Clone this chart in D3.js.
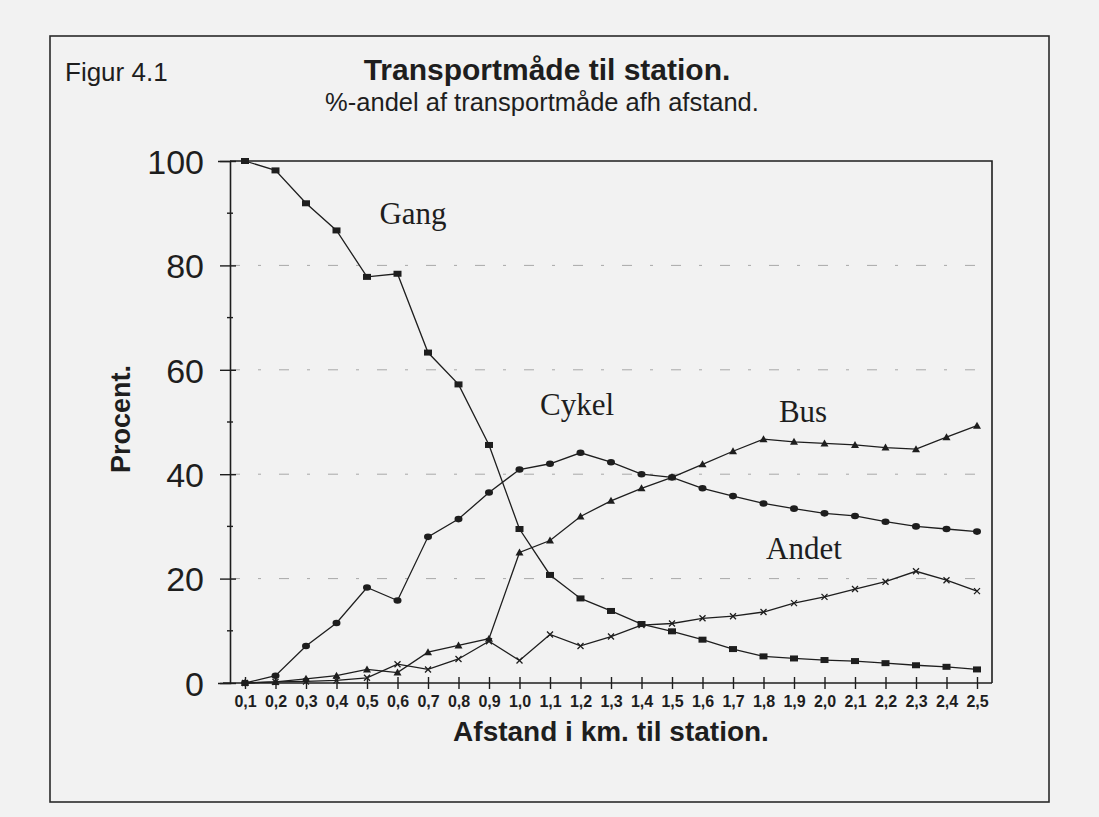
<!DOCTYPE html>
<html>
<head>
<meta charset="utf-8">
<script src="https://cdn.jsdelivr.net/npm/d3@7"></script>
<style>
  html, body { margin: 0; padding: 0; background: #f2f2f2; }
  svg { display: block; }
</style>
</head>
<body>
<svg id="chart" width="1099" height="817"></svg>
<script>
// ---- data ----
const categories = ["0,1","0,2","0,3","0,4","0,5","0,6","0,7","0,8","0,9","1,0","1,1","1,2","1,3",
                    "1,4","1,5","1,6","1,7","1,8","1,9","2,0","2,1","2,2","2,3","2,4","2,5"];
const gang  = [100, 98.2, 91.9, 86.7, 77.8, 78.4, 63.3, 57.2, 45.6, 29.5, 20.7, 16.2, 13.8,
               11.3, 9.9, 8.3, 6.5, 5.1, 4.7, 4.4, 4.2, 3.8, 3.4, 3.1, 2.6];
const cykel = [0, 1.4, 7.1, 11.5, 18.3, 15.8, 28.0, 31.4, 36.5, 40.9, 42.0, 44.1, 42.3,
               40.0, 39.4, 37.3, 35.8, 34.4, 33.4, 32.5, 32.0, 30.9, 30.0, 29.5, 29.0];
const bus   = [0, 0.2, 0.8, 1.4, 2.6, 2.0, 5.9, 7.2, 8.5, 25.0, 27.3, 31.9, 34.9,
               37.3, 39.4, 41.9, 44.4, 46.7, 46.2, 45.9, 45.6, 45.1, 44.8, 47.1, 49.3];
const andet = [0, 0.2, 0.3, 0.5, 1.0, 3.6, 2.6, 4.6, 8.0, 4.3, 9.3, 7.1, 8.9,
               11.1, 11.4, 12.4, 12.8, 13.6, 15.3, 16.5, 18.0, 19.4, 21.4, 19.7, 17.6];
const yTicks = [0, 20, 40, 60, 80, 100];
const yMinorTicks = [10, 30, 50, 70, 90];

const series = [
  { name: "Gang",  values: gang,  marker: "square" },
  { name: "Cykel", values: cykel, marker: "circle" },
  { name: "Bus",   values: bus,   marker: "triangle" },
  { name: "Andet", values: andet, marker: "cross" }
];

// ---- layout ----
const svg = d3.select("#chart");
const plot = { left: 230, top: 161, right: 992, bottom: 683 };
const ink = "#1e1e1e";
const sans = "Liberation Sans, Arial, sans-serif";

const x = d3.scalePoint().domain(categories).range([245, 977]);
const y = d3.scaleLinear().domain([0, 100]).range([plot.bottom, plot.top]);

// outer frame
svg.append("rect")
  .attr("x", 50).attr("y", 36).attr("width", 999).attr("height", 766)
  .attr("fill", "none").attr("stroke", "#2a2a2a").attr("stroke-width", 1.6);

// header texts
svg.append("text").attr("x", 65).attr("y", 81)
  .attr("font-family", sans).attr("font-size", 26)
  .attr("fill", ink).text("Figur 4.1");
svg.append("text").attr("x", 547).attr("y", 80).attr("text-anchor", "middle")
  .attr("font-family", sans).attr("font-size", 30)
  .attr("font-weight", "bold").attr("fill", ink).text("Transportmåde til station.");
svg.append("text").attr("x", 542).attr("y", 111).attr("text-anchor", "middle")
  .attr("font-family", sans).attr("font-size", 25.5)
  .attr("fill", ink).text("%-andel af transportmåde afh afstand.");

// faint gridlines
svg.append("g").selectAll("line").data(yTicks.filter(d => d > 0 && d < 100)).join("line")
  .attr("x1", plot.left).attr("x2", plot.right)
  .attr("y1", d => y(d)).attr("y2", d => y(d))
  .attr("stroke", "#a8a8a8").attr("stroke-width", 1)
  .attr("stroke-dasharray", "10,18,3,18");

// plot box (top & right)
svg.append("path")
  .attr("d", `M${plot.left},${plot.top}H${plot.right}V${plot.bottom}`)
  .attr("fill", "none").attr("stroke", ink).attr("stroke-width", 1.6);

// y axis
const yAxis = d3.axisLeft(y).tickValues(yTicks).tickSize(12).tickPadding(14);
const gy = svg.append("g").attr("transform", `translate(${plot.left},0)`).call(yAxis);
gy.select(".domain").attr("stroke", ink).attr("stroke-width", 1.6);
gy.selectAll(".tick line").attr("stroke", ink).attr("stroke-width", 1.4).attr("x2", -10).attr("x1", 6);
gy.selectAll(".tick text")
  .attr("font-family", sans).attr("font-size", 34)
  .attr("fill", ink).attr("x", -26).attr("dy", "0.36em");
svg.append("g").selectAll("line").data(yMinorTicks).join("line")
  .attr("x1", plot.left - 3).attr("x2", plot.left + 3)
  .attr("y1", d => y(d)).attr("y2", d => y(d))
  .attr("stroke", ink).attr("stroke-width", 1.4);

// x axis
const xAxis = d3.axisBottom(x).tickSize(6).tickPadding(8);
const gx = svg.append("g").attr("transform", `translate(0,${plot.bottom})`).call(xAxis);
gx.select(".domain").remove();
svg.append("line").attr("x1", plot.left - 7).attr("x2", plot.right)
  .attr("y1", plot.bottom).attr("y2", plot.bottom)
  .attr("stroke", ink).attr("stroke-width", 1.6);
gx.selectAll(".tick line").attr("stroke", ink).attr("stroke-width", 1.4).attr("y1", -6).attr("y2", 6);
gx.selectAll(".tick text")
  .attr("font-family", sans).attr("font-size", 16)
  .attr("font-weight", "bold").attr("fill", ink).attr("y", 13);

// axis titles
svg.append("text").attr("x", 611).attr("y", 741).attr("text-anchor", "middle")
  .attr("font-family", sans).attr("font-size", 28)
  .attr("font-weight", "bold").attr("fill", ink).text("Afstand i km. til station.");
svg.append("text").attr("transform", "translate(130,419) rotate(-90)").attr("text-anchor", "middle")
  .attr("font-family", sans).attr("font-size", 27)
  .attr("font-weight", "bold").attr("fill", ink).text("Procent.");

// lines
const line = d3.line().x((d, i) => x(categories[i])).y(d => y(d));
const gLines = svg.append("g");
series.forEach(s => {
  gLines.append("path").datum(s.values)
    .attr("d", line).attr("fill", "none")
    .attr("stroke", ink).attr("stroke-width", 1.3);
});

// markers
series.forEach(s => {
  const g = svg.append("g");
  s.values.forEach((v, i) => {
    const cx = x(categories[i]), cy = y(v);
    if (s.marker === "square") {
      g.append("rect").attr("x", cx - 4).attr("y", cy - 3).attr("width", 8).attr("height", 6).attr("fill", ink);
    } else if (s.marker === "circle") {
      g.append("ellipse").attr("cx", cx).attr("cy", cy).attr("rx", 4).attr("ry", 3.3).attr("fill", ink);
    } else if (s.marker === "triangle") {
      g.append("path").attr("d", `M${cx - 4},${cy + 3}L${cx + 4},${cy + 3}L${cx},${cy - 4}Z`).attr("fill", ink);
    } else {
      g.append("path").attr("d", `M${cx - 3},${cy - 3}L${cx + 3},${cy + 3}M${cx - 3},${cy + 3}L${cx + 3},${cy - 3}`)
        .attr("stroke", ink).attr("stroke-width", 1.3);
    }
  });
});

// series labels
const labelPos = { Gang: [413, 224], Cykel: [577, 415], Bus: [803, 422], Andet: [804, 559] };
series.forEach(s => {
  svg.append("text").attr("x", labelPos[s.name][0]).attr("y", labelPos[s.name][1])
    .attr("text-anchor", "middle")
    .attr("font-family", "Liberation Serif, Times New Roman, serif").attr("font-size", 31)
    .attr("fill", ink).text(s.name);
});
</script>
</body>
</html>
